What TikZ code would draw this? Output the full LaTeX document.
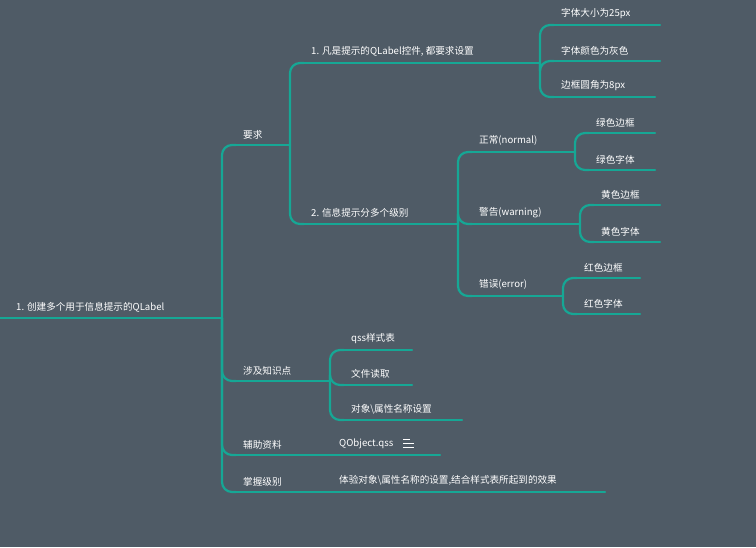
\documentclass[tikz,border=0pt]{standalone}
\usepackage{fontspec}
\setmainfont{Noto Sans CJK SC}
\usetikzlibrary{positioning}
\definecolor{bgc}{HTML}{4F5B66}
\definecolor{branch}{HTML}{16A795}

% topic: name, start x, end x, line y, text
\newcommand{\topic}[5]{%
  \coordinate (#1-s) at (#2,#4);
  \coordinate (#1-e) at (#3,#4);
  \draw[edge] ([xshift=12pt]#1-s) -- (#1-e);
  \node[label text] (#1) at ([xshift=20pt,yshift=5pt]#1-s) {#5};
}

\begin{document}
\begin{tikzpicture}[x=1pt, y=-1pt,
  edge/.style={draw=branch, line width=2.2pt, line cap=round},
  link/.style={edge, rounded corners=10pt},
  label text/.style={anchor=south west, text=white, inner sep=1pt,
    font=\fontsize{9.6}{11}\selectfont}]

\fill[bgc] (0,0) rectangle (756,547);
\useasboundingbox (0,0) rectangle (756,547);

% --- root ---
\coordinate (root-s) at (0,318);
\coordinate (root-e) at (222,318);
\draw[edge] (root-s) -- (root-e);
\node[label text] (root) at ([xshift=15pt,yshift=5pt]root-s) {1. 创建多个用于信息提示的QLabel};

% --- first level ---
\topic{req}{222}{290}{145}{要求}
\topic{know}{222}{330}{381}{涉及知识点}
\topic{aid}{222}{330}{455}{辅助资料}
\topic{lvl}{222}{330}{492}{掌握级别}
\foreach \t in {req, know, aid, lvl}
  \draw[link] (root-e) |- ([xshift=14pt]\t-s);

% --- 要求 ---
\topic{set}{290}{540}{63}{1. 凡是提示的QLabel控件, 都要求设置}
\topic{grade}{290}{458}{224}{2. 信息提示分多个级别}
\foreach \t in {set, grade}
  \draw[link] (req-e) |- ([xshift=14pt]\t-s);

\topic{size}{540}{660}{25}{字体大小为25px}
\topic{gray}{540}{660}{61}{字体颜色为灰色}
\topic{radius}{540}{655}{97}{边框圆角为8px}
\foreach \t in {size, gray, radius}
  \draw[link] (set-e) |- ([xshift=14pt]\t-s);

\topic{normal}{458}{575}{152}{正常(normal)}
\topic{warn}{458}{580}{224}{警告(warning)}
\topic{err}{458}{563}{296}{错误(error)}
\foreach \t in {normal, warn, err}
  \draw[link] (grade-e) |- ([xshift=14pt]\t-s);

\topic{gb}{575}{655}{133}{绿色边框}
\topic{gf}{575}{655}{170}{绿色字体}
\foreach \t in {gb, gf} \draw[link] (normal-e) |- ([xshift=14pt]\t-s);
\topic{yb}{580}{660}{205}{黄色边框}
\topic{yf}{580}{660}{242}{黄色字体}
\foreach \t in {yb, yf} \draw[link] (warn-e) |- ([xshift=14pt]\t-s);
\topic{rb}{563}{640}{278}{红色边框}
\topic{rf}{563}{640}{314}{红色字体}
\foreach \t in {rb, rf} \draw[link] (err-e) |- ([xshift=14pt]\t-s);

% --- 涉及知识点 ---
\topic{qss}{330}{412}{350}{qss样式表}
\topic{file}{330}{412}{385}{文件读取}
\topic{prop}{330}{462}{420}{对象\textbackslash 属性名称设置}
\foreach \t in {qss, file, prop}
  \draw[link] (know-e) |- ([xshift=14pt]\t-s);

% --- 辅助资料 / 掌握级别 ---
\coordinate (qobj-s) at (330,455);
\coordinate (qobj-e) at (440,455);
\draw[edge] (aid-e) -- (qobj-e);
\node[label text] (qobj) at ([xshift=8pt,yshift=5pt]qobj-s) {QObject.qss};
\coordinate[right=9pt of qobj.east] (note);
\foreach \w/\h in {11/-4, 11/0, 7/4}
  \draw[white, line width=1pt] ([yshift=\h pt]note) -- ++(\w,0);
\coordinate (effect-s) at (330,492);
\coordinate (effect-e) at (605,492);
\draw[edge] (lvl-e) -- (effect-e);
\node[label text] (effect) at ([xshift=8pt,yshift=5pt]effect-s) {体验对象\textbackslash 属性名称的设置,结合样式表所起到的效果};

\end{tikzpicture}
\end{document}
